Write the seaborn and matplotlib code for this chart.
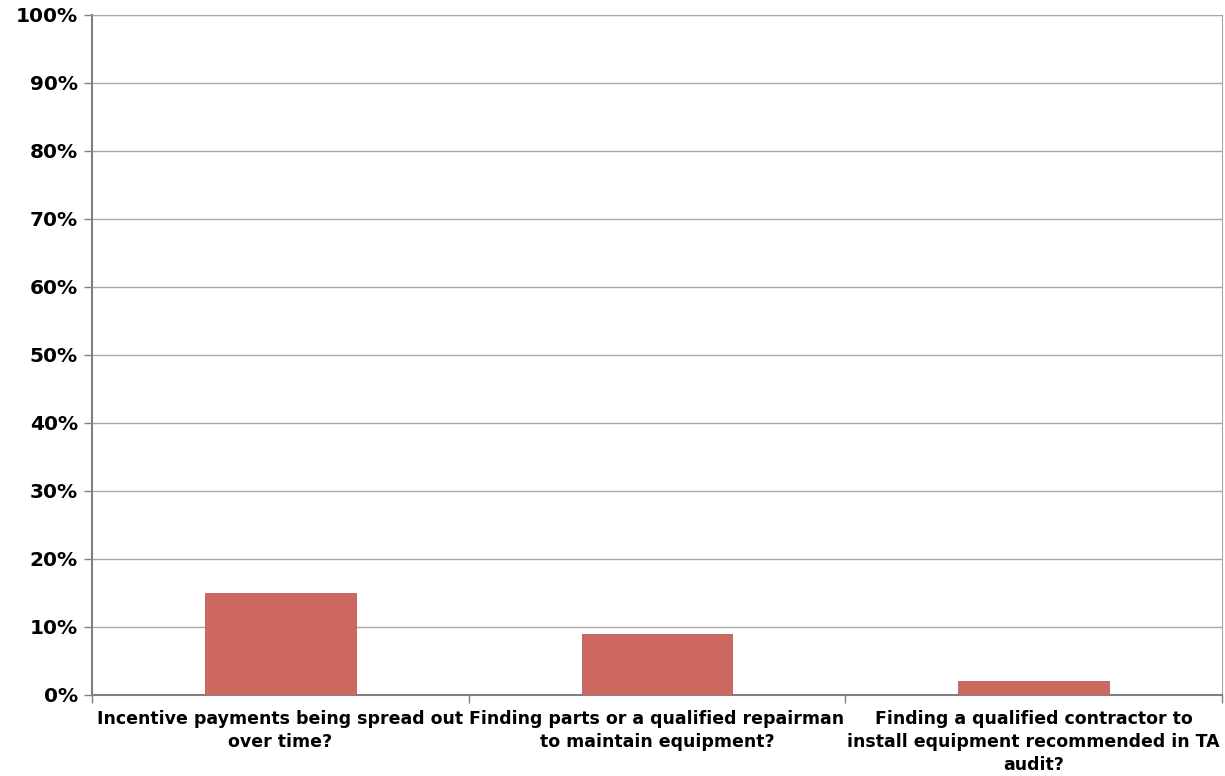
import numpy as np
import pandas as pd
import matplotlib
matplotlib.use("Agg")
import matplotlib.pyplot as plt
from matplotlib.ticker import FixedLocator, PercentFormatter
import seaborn as sns

sns.set_style("white")
plt.rcParams['font.family'] = ['DejaVu Sans']

categories = [
    "Incentive payments being spread out\nover time?",
    "Finding parts or a qualified repairman\nto maintain equipment?",
    "Finding a qualified contractor to\ninstall equipment recommended in TA\naudit?",
]
values = [15, 9, 2]

df = pd.DataFrame({"question": categories, "pct": values})

fig = plt.figure(figsize=(12.25, 7.76), dpi=100)
ax = fig.add_axes([0.075, 0.1044, 0.9976 - 0.075, 0.9807 - 0.1044])

sns.barplot(data=df, x="question", y="pct", color="#CC6860", width=0.4,
            saturation=1, edgecolor="#B85A52", linewidth=0.6, ax=ax, zorder=3)

ax.set_ylim(0, 100)
ax.set_xlim(-0.5, len(categories) - 0.5)
ax.set_yticks(np.arange(0, 101, 10))
ax.yaxis.set_major_formatter(PercentFormatter(decimals=0))
ax.yaxis.grid(True, color="#A6A6A6", linewidth=1, zorder=0)
ax.set_axisbelow(True)

# tick marks sit at category boundaries
ax.xaxis.set_minor_locator(FixedLocator(np.arange(-0.5, len(categories), 1.0)))
ax.tick_params(axis="x", which="major", bottom=True, length=0, pad=11)
ax.tick_params(axis="x", which="minor", bottom=True, length=6, color="#808080", width=1)
ax.tick_params(axis="y", left=True, length=6, color="#808080", width=1, pad=4)

for lab in ax.get_xticklabels():
    lab.set_fontsize(12.5)
    lab.set_fontweight("bold")
    lab.set_color("black")
    lab.set_horizontalalignment("center")
    lab.set_multialignment("center")
    lab.set_linespacing(1.36)
for lab in ax.get_yticklabels():
    lab.set_fontsize(14.5)
    lab.set_fontweight("bold")
    lab.set_color("black")

ax.set_xlabel("")
ax.set_ylabel("")
for side in ["left", "bottom"]:
    ax.spines[side].set_color("#808080")
    ax.spines[side].set_linewidth(1.5)
ax.spines["right"].set_color("#A6A6A6")
ax.spines["top"].set_color("#A6A6A6")

fig.savefig("out.png", dpi=100)
